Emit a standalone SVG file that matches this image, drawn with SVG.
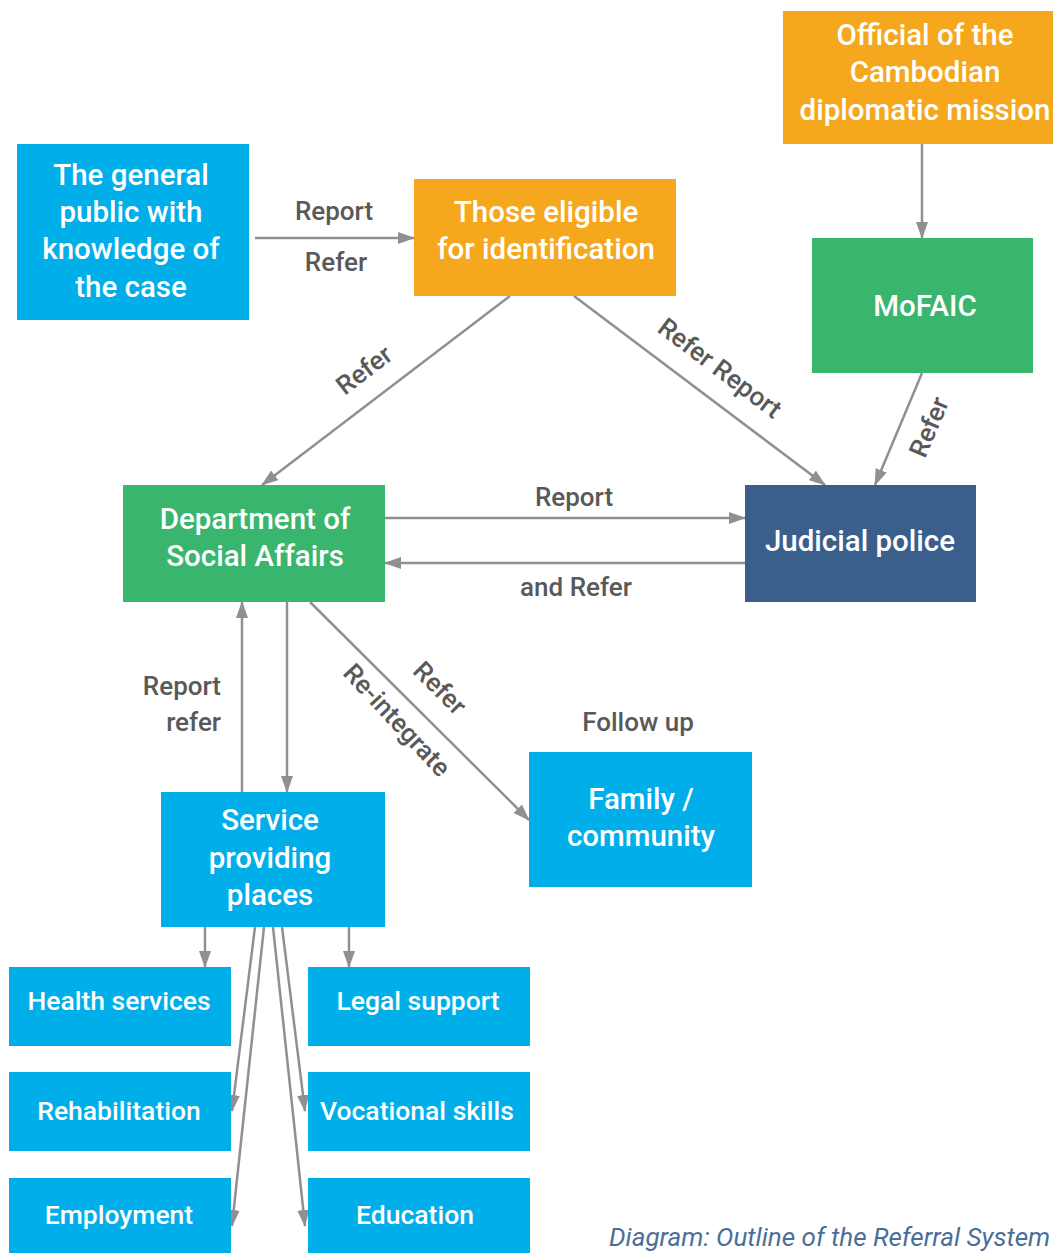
<svg xmlns="http://www.w3.org/2000/svg" width="1053" height="1253" viewBox="0 0 1053 1253">
<defs>
<style>
.node text{font-family:Roboto,"Liberation Sans",sans-serif;font-weight:500;fill:#ffffff;text-anchor:middle;font-size:29.5px}
.small text{font-size:26.5px}
.lbl{font-family:Roboto,"Liberation Sans",sans-serif;font-weight:500;fill:#595959;font-size:26px;text-anchor:middle}
.blue{fill:#00AEEA}
.orange{fill:#F5A81E}
.green{fill:#3AB56D}
.navy{fill:#3A5F8D}
.conn line{stroke:#909094;stroke-width:2.5;fill:none}
.cap{font-family:Roboto,"Liberation Sans",sans-serif;font-style:italic;fill:#4A6E9A;font-size:26px}
</style>
<marker id="ah" markerUnits="userSpaceOnUse" markerWidth="17" markerHeight="12" refX="16" refY="6" orient="auto">
<path d="M0,0 L17,6 L0,12 z" fill="#909094"/>
</marker>
</defs>
<rect width="1053" height="1253" fill="#ffffff"/>

<g id="connectors" class="conn">
<line x1="255" y1="238" x2="414" y2="238" marker-end="url(#ah)"/>
<line x1="510" y1="296" x2="262" y2="485" marker-end="url(#ah)"/>
<line x1="574" y1="296" x2="825" y2="485" marker-end="url(#ah)"/>
<line x1="922" y1="144" x2="922" y2="238" marker-end="url(#ah)"/>
<line x1="922" y1="373" x2="875" y2="485" marker-end="url(#ah)"/>
<line x1="385" y1="518" x2="745" y2="518" marker-end="url(#ah)"/>
<line x1="745" y1="563" x2="385" y2="563" marker-end="url(#ah)"/>
<line x1="242" y1="792" x2="242" y2="602" marker-end="url(#ah)"/>
<line x1="287" y1="602" x2="287" y2="792" marker-end="url(#ah)"/>
<line x1="310" y1="602" x2="529" y2="820" marker-end="url(#ah)"/>
<line x1="205" y1="927" x2="205" y2="967" marker-end="url(#ah)"/>
<line x1="349" y1="927" x2="349" y2="967" marker-end="url(#ah)"/>
<line x1="255" y1="927" x2="232" y2="1111" marker-end="url(#ah)"/>
<line x1="264" y1="927" x2="232" y2="1226" marker-end="url(#ah)"/>
<line x1="273" y1="927" x2="305" y2="1226" marker-end="url(#ah)"/>
<line x1="282" y1="927" x2="305" y2="1111" marker-end="url(#ah)"/>
</g>

<g id="labels">
<text class="lbl" x="334" y="220">Report</text>
<text class="lbl" x="336" y="271">Refer</text>
<text class="lbl" transform="translate(364,370) rotate(-37.3)" x="0" y="9">Refer</text>
<text class="lbl" transform="translate(720,368) rotate(37)" x="0" y="9">Refer Report</text>
<text class="lbl" transform="translate(929,427) rotate(-67)" x="0" y="9">Refer</text>
<text class="lbl" x="574" y="506">Report</text>
<text class="lbl" x="576" y="596">and Refer</text>
<text class="lbl" x="221" y="695" style="text-anchor:end">Report</text>
<text class="lbl" x="221" y="731" style="text-anchor:end">refer</text>
<text class="lbl" transform="translate(440,688) rotate(45)" x="0" y="9">Refer</text>
<text class="lbl" transform="translate(397,720) rotate(47)" x="0" y="9">Re-integrate</text>
<text class="lbl" x="638" y="731">Follow up</text>
</g>

<g id="n-public" class="node">
<rect class="blue" x="17" y="144" width="232" height="176"/>
<text x="131" y="185">The general</text>
<text x="131" y="222">public with</text>
<text x="131" y="259">knowledge of</text>
<text x="131" y="297">the case</text>
</g>
<g id="n-eligible" class="node">
<rect class="orange" x="414" y="179" width="262" height="117"/>
<text x="546" y="222">Those eligible</text>
<text x="546" y="259">for identification</text>
</g>
<g id="n-official" class="node">
<rect class="orange" x="783" y="11" width="270" height="133"/>
<text x="925" y="45">Official of the</text>
<text x="925" y="82">Cambodian</text>
<text x="925" y="120">diplomatic mission</text>
</g>
<g id="n-mofaic" class="node">
<rect class="green" x="812" y="238" width="221" height="135"/>
<text x="925" y="316">MoFAIC</text>
</g>
<g id="n-dsa" class="node">
<rect class="green" x="123" y="485" width="262" height="117"/>
<text x="255" y="529">Department of</text>
<text x="255" y="566">Social Affairs</text>
</g>
<g id="n-police" class="node">
<rect class="navy" x="745" y="485" width="231" height="117"/>
<text x="860" y="551">Judicial police</text>
</g>
<g id="n-service" class="node">
<rect class="blue" x="161" y="792" width="224" height="135"/>
<text x="270" y="830">Service</text>
<text x="270" y="868">providing</text>
<text x="270" y="905">places</text>
</g>
<g id="n-family" class="node">
<rect class="blue" x="529" y="752" width="223" height="135"/>
<text x="641" y="809">Family /</text>
<text x="641" y="846">community</text>
</g>
<g id="n-health" class="node small">
<rect class="blue" x="9" y="967" width="222" height="79"/>
<text x="119" y="1010">Health services</text>
</g>
<g id="n-legal" class="node small">
<rect class="blue" x="308" y="967" width="222" height="79"/>
<text x="418" y="1010">Legal support</text>
</g>
<g id="n-rehab" class="node small">
<rect class="blue" x="9" y="1072" width="222" height="79"/>
<text x="119" y="1120">Rehabilitation</text>
</g>
<g id="n-vocational" class="node small">
<rect class="blue" x="308" y="1072" width="222" height="79"/>
<text x="417" y="1120">Vocational skills</text>
</g>
<g id="n-employment" class="node small">
<rect class="blue" x="9" y="1178" width="222" height="75"/>
<text x="119" y="1224">Employment</text>
</g>
<g id="n-education" class="node small">
<rect class="blue" x="308" y="1178" width="222" height="75"/>
<text x="415" y="1224">Education</text>
</g>

<text class="cap" x="609" y="1246">Diagram: Outline of the Referral System</text>
</svg>
